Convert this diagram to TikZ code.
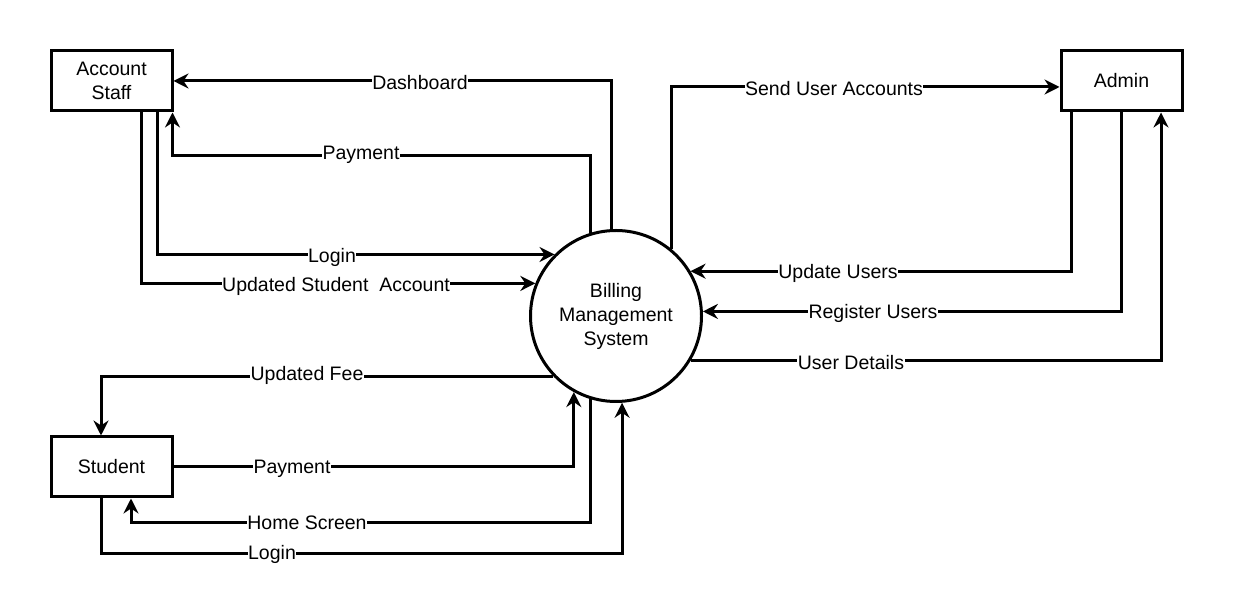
\documentclass[tikz,border=0pt]{standalone}
\usepackage{fontspec}
\setmainfont{Liberation Sans}
\usetikzlibrary{arrows.meta}
\begin{document}
\begin{tikzpicture}[x=1pt,y=1pt,
  ent/.style={draw,line width=3pt,minimum width=121pt,minimum height=60pt,inner sep=0pt,align=center,fill=white},
  proc/.style={draw,circle,line width=3pt,minimum size=171pt,inner sep=0pt,align=center},
  flow/.style={line width=3pt,-{Stealth[length=15pt,width=15pt,inset=5pt]}},
  lbl/.style={fill=white,inner sep=0.5pt},
  every node/.style={font=\fontsize{19.5}{24}\selectfont}]
\useasboundingbox (0,0) rectangle (1233,615);
\node[ent] (as) at (111.5,534) {Account\\Staff};
\node[ent] (ad) at (1121.5,534) {Admin};
\node[ent] (st) at (111.5,148) {Student};
\node[proc] (c) at (616,299) {Billing\\Management\\System};
% Account staff flows
\draw[flow] (c.93.4) |- (as.east);
\draw[flow] (c.107) |- ([xshift=-1pt,yshift=-43pt]as.south east) -- ([xshift=-1pt]as.south east);
\draw[flow] ([xshift=45.5pt]as.south) |- (c.135.4);
\draw[flow] ([xshift=29.5pt]as.south) |- (c.158);
% Admin flows
\draw[flow] (c.50) |- ([yshift=-6pt]ad.west);
\draw[flow] ([xshift=-50.5pt]ad.south) |- (c.31.8);
\draw[flow] (ad.south) |- (c.3.35);
\draw[flow] (c.-31.8) -| ([xshift=39.5pt]ad.south);
% Student flows
\draw[flow] (c.224.6) -| ([xshift=-10.5pt]st.north);
\draw[flow] (st.east) -| (c.241.3);
\draw[flow] (c.253.7) |- ([xshift=19.5pt,yshift=-24pt]st.south) -- ([xshift=19.5pt]st.south);
\draw[flow] ([xshift=-10.5pt]st.south) |- ([yshift=-55pt]st.south -| c.274) -- (c.274);
% labels
\node[lbl] (l1) at (420,532) {Dashboard};
\node[lbl] (l2) at (361,460) {Payment};
\node[lbl] (l3) at (332,358) {Login};
\node[lbl] (l4) at (336,329) {Updated Student\ \ Account};
\node[lbl] (l5) at (834,526) {Send User Accounts};
\node[lbl] (l6) at (838,342) {Update Users};
\node[lbl] (l7) at (873,302) {Register Users};
\node[lbl] (l8) at (851,252) {User Details};
\node[lbl] (l9) at (307,240) {Updated Fee};
\node[lbl] (l10) at (292,146) {Payment};
\node[lbl] (l11) at (307,92) {Home Screen};
\node[lbl] (l12) at (272,61) {Login};
\end{tikzpicture}
\end{document}
